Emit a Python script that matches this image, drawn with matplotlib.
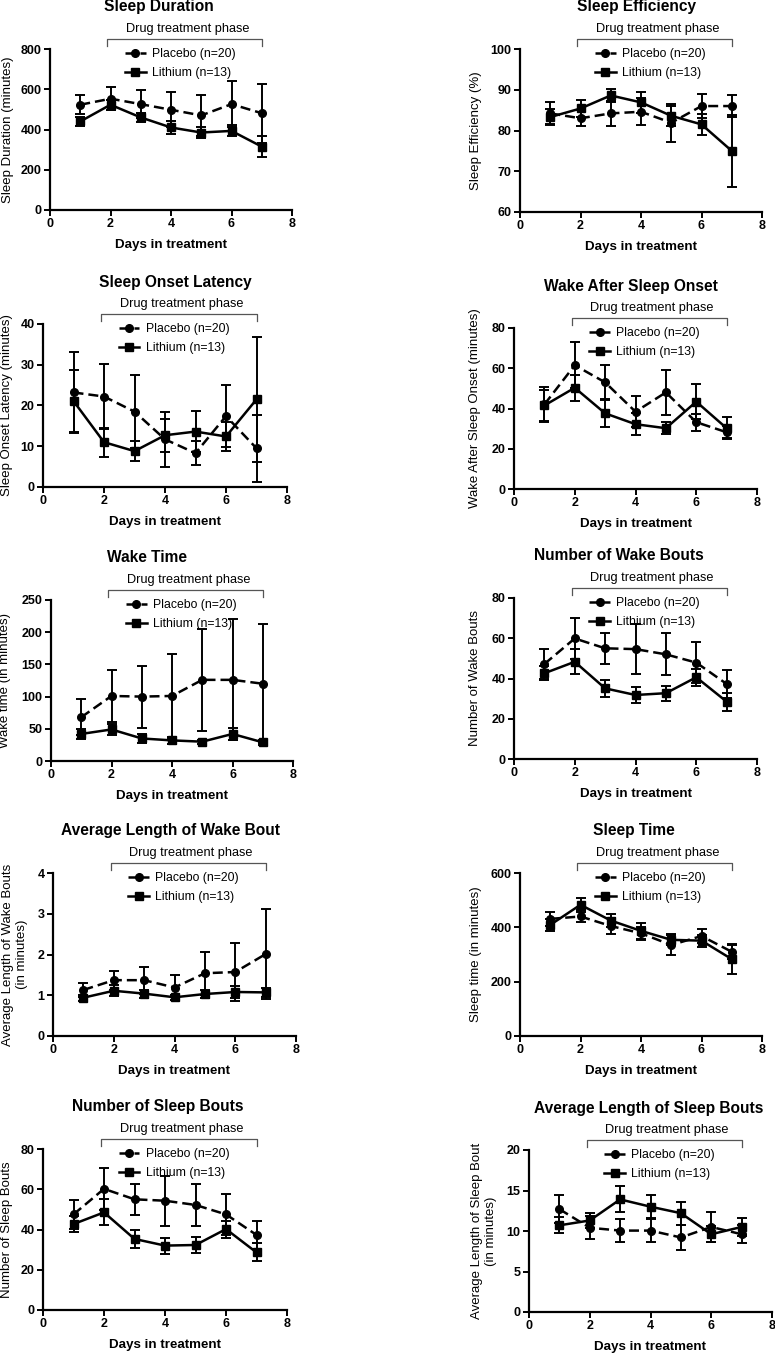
import matplotlib
matplotlib.use("Agg")
import matplotlib.pyplot as plt

plt.rcParams["font.family"] = ["Liberation Sans", "DejaVu Sans"]

# ---- data (mean and SEM per day) ----
days = [1, 2, 3, 4, 5, 6, 7]
x_ticks = [0, 2, 4, 6, 8]
phase_start, phase_end = 1.9, 7.0

dur_placebo = [523, 553, 526, 498, 470, 526, 481]
dur_placebo_se = [46, 58, 68, 86, 103, 116, 146]
dur_lithium = [440, 523, 460, 410, 385, 393, 315]
dur_lithium_se = [23, 25, 22, 30, 25, 27, 53]

eff_placebo = [84.2, 83.0, 84.2, 84.6, 81.9, 86.0, 86.0]
eff_placebo_se = [2.7, 2.0, 3.0, 3.3, 4.6, 2.9, 2.8]
eff_lithium = [83.3, 85.4, 88.6, 86.9, 83.6, 81.5, 75.0]
eff_lithium_se = [2.0, 2.2, 1.5, 2.6, 2.4, 2.6, 8.8]

sol_placebo = [23.2, 22.2, 18.5, 11.7, 8.3, 17.4, 9.5]
sol_placebo_se = [10.0, 8.0, 9.0, 6.7, 3.0, 7.6, 8.2]
sol_lithium = [21.1, 11.0, 8.8, 12.7, 13.6, 12.4, 21.5]
sol_lithium_se = [7.7, 3.6, 2.5, 4.0, 5.0, 3.5, 15.3]

waso_placebo = [42.0, 61.5, 53.0, 38.4, 48.0, 33.2, 28.2]
waso_placebo_se = [8.5, 11.5, 8.7, 7.8, 11.0, 4.3, 3.0]
waso_lithium = [41.5, 50.3, 37.6, 32.2, 30.2, 43.4, 30.2]
waso_lithium_se = [7.5, 6.5, 7.0, 5.5, 3.0, 8.7, 5.4]

wake_placebo = [68, 101, 100, 101, 126, 126, 120]
wake_placebo_se = [28, 41, 48, 65, 79, 94, 92]
wake_lithium = [42, 49, 35, 32, 30, 42, 29]
wake_lithium_se = [8, 8, 7, 6, 3, 9, 4]

nwb_placebo = [47.2, 59.9, 55.0, 54.6, 52.0, 47.9, 37.3]
nwb_placebo_se = [7.4, 10.0, 7.6, 12.4, 10.5, 10.0, 7.0]
nwb_lithium = [42.6, 48.3, 35.1, 31.8, 32.7, 40.6, 28.5]
nwb_lithium_se = [3.5, 6.3, 4.3, 4.0, 3.8, 4.3, 4.5]

alwb_placebo = [1.13, 1.37, 1.37, 1.19, 1.54, 1.57, 2.01]
alwb_placebo_se = [0.18, 0.23, 0.33, 0.31, 0.53, 0.70, 1.11]
alwb_lithium = [0.94, 1.11, 1.04, 0.95, 1.03, 1.08, 1.07]
alwb_lithium_se = [0.07, 0.13, 0.10, 0.06, 0.10, 0.15, 0.12]

st_placebo = [431, 440, 405, 378, 335, 368, 310]
st_placebo_se = [25, 22, 28, 25, 35, 25, 25]
st_lithium = [409, 483, 425, 387, 354, 351, 283]
st_lithium_se = [23, 25, 25, 30, 20, 22, 55]

nsb_placebo = [47.5, 60.2, 55.0, 54.3, 52.2, 47.5, 37.3]
nsb_placebo_se = [7.2, 10.5, 7.6, 12.5, 10.4, 10.0, 7.0]
nsb_lithium = [42.7, 48.5, 35.3, 32.0, 32.3, 40.2, 28.6]
nsb_lithium_se = [3.8, 6.5, 4.3, 4.0, 3.8, 4.2, 4.5]

alsb_placebo = [12.7, 10.4, 10.05, 10.05, 9.2, 10.5, 9.6]
alsb_placebo_se = [1.7, 1.4, 1.45, 1.4, 1.6, 1.8, 1.1]
alsb_lithium = [10.7, 11.3, 13.9, 13.0, 12.2, 9.6, 10.5]
alsb_lithium_se = [1.0, 0.9, 1.6, 1.4, 1.4, 1.0, 1.1]

titles = ["Sleep Duration", "Sleep Efficiency", "Sleep Onset Latency",
          "Wake After Sleep Onset", "Wake Time", "Number of Wake Bouts",
          "Average Length of Wake Bout", "Sleep Time",
          "Number of Sleep Bouts", "Average Length of Sleep Bouts"]
ylabels = ["Sleep Duration (minutes)", "Sleep Efficiency (%)",
           "Sleep Onset Latency (minutes)", "Wake After Sleep Onset (minutes)",
           "Wake time (in minutes)", "Number of Wake Bouts",
           "Average Length of Wake Bouts\n(in minutes)", "Sleep time (in minutes)",
           "Number of Sleep Bouts", "Average Length of Sleep Bout\n(in minutes)"]
y_ticks = [[0, 200, 400, 600, 800], [60, 70, 80, 90, 100], [0, 10, 20, 30, 40],
           [0, 20, 40, 60, 80], [0, 50, 100, 150, 200, 250], [0, 20, 40, 60, 80],
           [0, 1, 2, 3, 4], [0, 200, 400, 600], [0, 20, 40, 60, 80],
           [0, 5, 10, 15, 20]]
placebo_label = "Placebo (n=20)"
lithium_label = "Lithium (n=13)"

panels = [
    (dur_placebo, dur_placebo_se, dur_lithium, dur_lithium_se),
    (eff_placebo, eff_placebo_se, eff_lithium, eff_lithium_se),
    (sol_placebo, sol_placebo_se, sol_lithium, sol_lithium_se),
    (waso_placebo, waso_placebo_se, waso_lithium, waso_lithium_se),
    (wake_placebo, wake_placebo_se, wake_lithium, wake_lithium_se),
    (nwb_placebo, nwb_placebo_se, nwb_lithium, nwb_lithium_se),
    (alwb_placebo, alwb_placebo_se, alwb_lithium, alwb_lithium_se),
    (st_placebo, st_placebo_se, st_lithium, st_lithium_se),
    (nsb_placebo, nsb_placebo_se, nsb_lithium, nsb_lithium_se),
    (alsb_placebo, alsb_placebo_se, alsb_lithium, alsb_lithium_se),
]

# ---- layout (pixels: left, top, right, bottom), title dx, ylabel dx ----
W, H = 775, 1354
boxes = [(50, 49, 292, 210), (520, 49, 762, 212),
         (43, 324, 287, 487), (514, 328, 757, 489),
         (51, 600, 293, 761), (514, 598, 757, 759),
         (53, 873, 296, 1036), (520, 873, 762, 1036),
         (43, 1149, 287, 1310), (529, 1150, 772, 1312)]
title_dx = [-12, -4, 10, -5, -25, -17, -4, -7, -7, -2]
ylabel_dx = [-42, -44, -36, -39, -46, -39, -38, -44, -36, -45]

fig = plt.figure(figsize=(W / 100, H / 100), dpi=100)

for i, (pm, pse, lm, lse) in enumerate(panels):
    l, t, r, b = boxes[i]
    w_px, h_px = r - l, b - t
    ax = fig.add_axes([l / W, 1 - b / H, w_px / W, h_px / H])

    pl = ax.errorbar(days, pm, yerr=pse, color="black", lw=1.8, marker="o",
                     ms=5.5, dashes=(4, 2), elinewidth=1.4, capsize=3.5,
                     capthick=1.4, clip_on=False)
    pl[2][0].set_linestyle("-")
    li = ax.errorbar(days, lm, yerr=lse, color="black", lw=1.8, marker="s",
                     ms=6, elinewidth=1.4, capsize=3.5, capthick=1.4,
                     clip_on=False)

    ax.set_xlim(0, 8)
    ax.set_xticks(x_ticks)
    ax.set_ylim(y_ticks[i][0], y_ticks[i][-1])
    ax.set_yticks(y_ticks[i])
    for s in ("top", "right"):
        ax.spines[s].set_visible(False)
    for s in ("left", "bottom"):
        ax.spines[s].set_linewidth(1.6)
    ax.tick_params(width=1.4, length=4, labelsize=9, pad=2)
    for lab in ax.get_xticklabels() + ax.get_yticklabels():
        lab.set_fontweight("bold")

    ax.text(0.5, -35 / h_px, "Days in treatment", transform=ax.transAxes,
            ha="center", va="center", fontsize=9.6, fontweight="bold")
    ax.text(ylabel_dx[i] / w_px, 0.5, ylabels[i], transform=ax.transAxes,
            rotation=90, ha="center", va="center", fontsize=9.5,
            multialignment="center")
    ax.text(0.5 + title_dx[i] / w_px, 1 + 42 / h_px, titles[i],
            transform=ax.transAxes, ha="center", va="center",
            fontsize=11.2, fontweight="bold")

    # drug treatment phase bracket
    ytr = ax.get_xaxis_transform()
    y0 = 1 + 3 / h_px
    y1 = 1 + 10 / h_px
    ax.plot([phase_start, phase_start, phase_end, phase_end], [y0, y1, y1, y0],
            transform=ytr, color="#555555", lw=0.9, clip_on=False)
    ax.text((phase_start + phase_end) / 2 + 0.1, 1 + 20 / h_px,
            "Drug treatment phase", transform=ytr, ha="center", va="center",
            fontsize=9.2)

    ax.legend([pl[0], li[0]], [placebo_label, lithium_label],
              loc="upper left", bbox_to_anchor=(0.31, 1 + 1 / h_px),
              frameon=False, fontsize=8.8, handlelength=1.7, handletextpad=0.5,
              labelspacing=0.6, borderpad=0, borderaxespad=0)

fig.savefig("out.png", dpi=100)
